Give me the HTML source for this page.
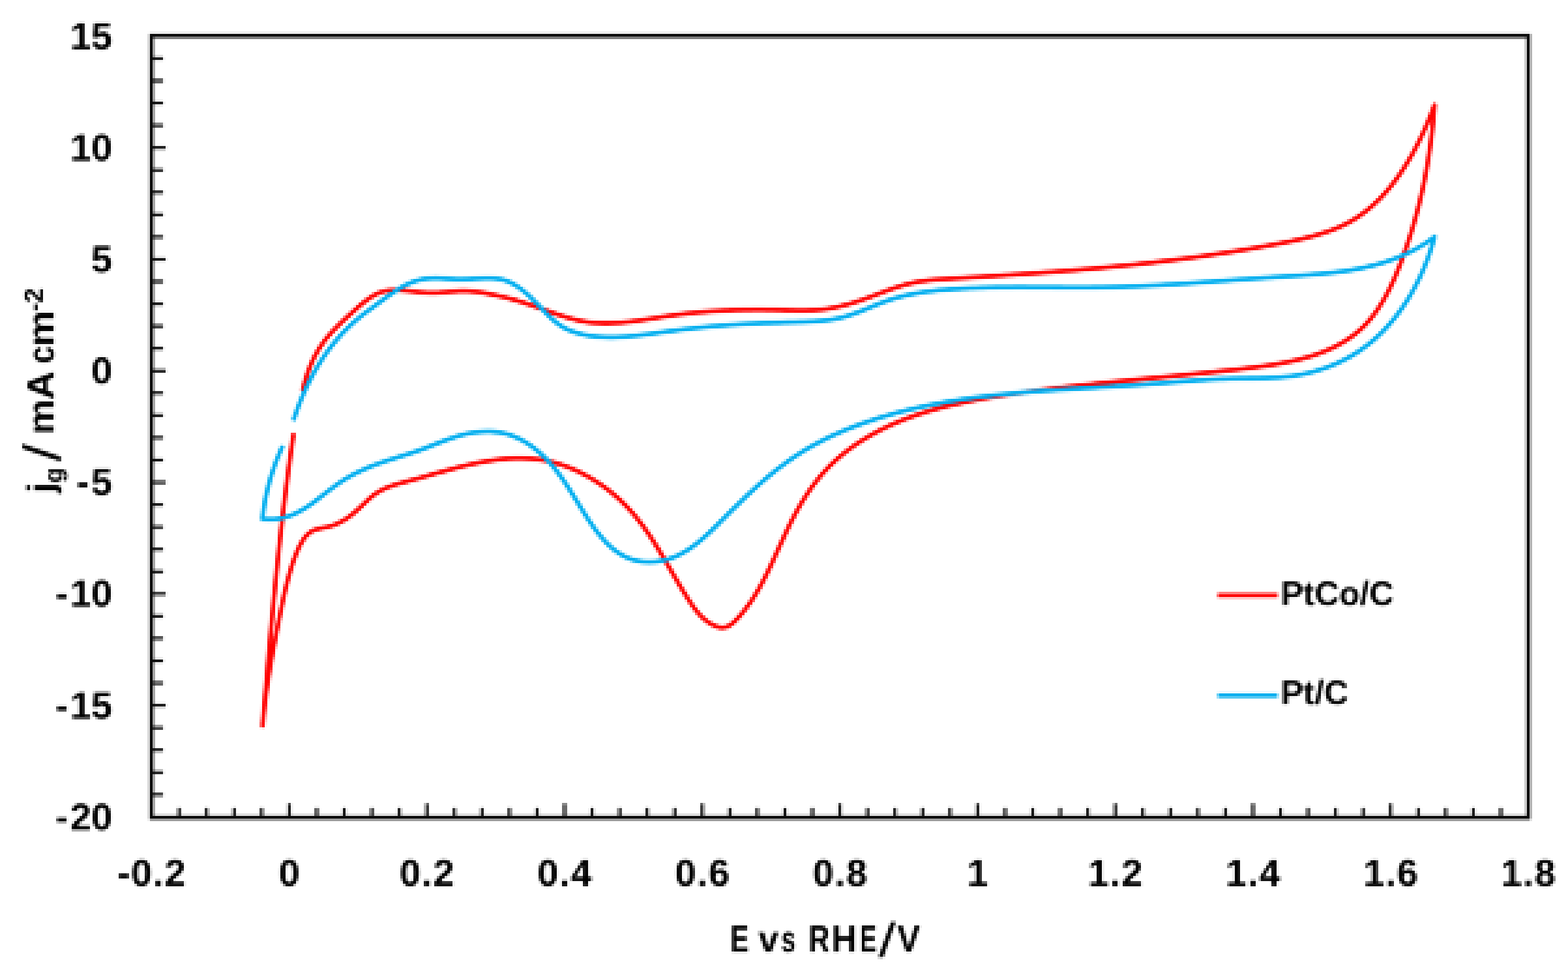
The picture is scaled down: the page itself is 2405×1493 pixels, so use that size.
<!DOCTYPE html>
<html lang="en"><head><meta charset="utf-8"><title>Cyclic voltammograms of PtCo/C and Pt/C</title>
<style>html,body{margin:0;padding:0;background:#fff}body{width:2405px;height:1493px}svg{display:block}text{font-family:"Liberation Sans",Arial,Helvetica,sans-serif;font-weight:700;fill:#000}</style></head><body>
<svg width="2405" height="1493" viewBox="0 0 2405 1493" role="img" aria-label="Cyclic voltammograms, j_g / mA cm-2 versus E vs RHE/V, for PtCo/C and Pt/C">
<defs><filter id="avg" filterUnits="userSpaceOnUse" x="0" y="0" width="2405" height="1493" color-interpolation-filters="sRGB"><feGaussianBlur stdDeviation="1.1"/></filter><pattern id="dotp" patternUnits="userSpaceOnUse" x="0" y="0" width="4" height="4"><rect x="3" y="1" width="1" height="1" fill="#fff"/></pattern><mask id="dots" maskUnits="userSpaceOnUse" x="0" y="0" width="2405" height="1493"><rect x="0" y="0" width="2405" height="1493" fill="url(#dotp)" shape-rendering="crispEdges"/></mask><filter id="rep" filterUnits="userSpaceOnUse" x="0" y="0" width="2405" height="1493" color-interpolation-filters="sRGB"><feMorphology operator="dilate" radius="1" result="d"/><feOffset in="d" dx="1" dy="0" result="dx"/><feMerge result="m1"><feMergeNode in="dx"/><feMergeNode in="d"/></feMerge><feOffset in="m1" dx="0" dy="1" result="dy"/><feMerge result="m2"><feMergeNode in="dy"/><feMergeNode in="m1"/></feMerge><feGaussianBlur in="m2" stdDeviation="0.6"/></filter></defs>
<g filter="url(#rep)"><g mask="url(#dots)"><g filter="url(#avg)"><g transform="translate(-0.5 -0.5)">
<rect x="-4" y="-4" width="2413" height="1501" fill="#fff"/>
<path d="M232.4 89.7h17.8M232.4 124h17.8M232.4 158.2h17.8M232.4 192.4h17.8M232.4 226.7h21.9M232.4 260.9h17.8M232.4 295.1h17.8M232.4 329.4h17.8M232.4 363.6h17.8M232.4 397.8h21.9M232.4 432h17.8M232.4 466.3h17.8M232.4 500.5h17.8M232.4 534.7h17.8M232.4 569h21.9M232.4 603.2h17.8M232.4 637.4h17.8M232.4 671.7h17.8M232.4 705.9h17.8M232.4 740.1h21.9M232.4 774.4h17.8M232.4 808.6h17.8M232.4 842.8h17.8M232.4 877.1h17.8M232.4 911.3h21.9M232.4 945.5h17.8M232.4 979.7h17.8M232.4 1014h17.8M232.4 1048.2h17.8M232.4 1082.4h21.9M232.4 1116.7h17.8M232.4 1150.9h17.8M232.4 1185.1h17.8M232.4 1219.4h17.8M274.7 1254.5v-15M317 1254.5v-15M359.2 1254.5v-15M401.4 1254.5v-15M443.7 1254.5v-21.5M485.9 1254.5v-15M528.1 1254.5v-15M570.4 1254.5v-15M612.6 1254.5v-15M654.8 1254.5v-21.5M697.1 1254.5v-15M739.3 1254.5v-15M781.5 1254.5v-15M823.8 1254.5v-15M866 1254.5v-21.5M908.2 1254.5v-15M950.5 1254.5v-15M992.7 1254.5v-15M1034.9 1254.5v-15M1077.2 1254.5v-21.5M1119.4 1254.5v-15M1161.6 1254.5v-15M1203.9 1254.5v-15M1246.1 1254.5v-15M1288.3 1254.5v-21.5M1330.6 1254.5v-15M1372.8 1254.5v-15M1415.1 1254.5v-15M1457.3 1254.5v-15M1499.5 1254.5v-21.5M1541.8 1254.5v-15M1584 1254.5v-15M1626.2 1254.5v-15M1668.5 1254.5v-15M1710.7 1254.5v-21.5M1752.9 1254.5v-15M1795.2 1254.5v-15M1837.4 1254.5v-15M1879.6 1254.5v-15M1921.9 1254.5v-21.5M1964.1 1254.5v-15M2006.3 1254.5v-15M2048.6 1254.5v-15M2090.8 1254.5v-15M2133 1254.5v-21.5M2175.3 1254.5v-15M2217.5 1254.5v-15M2259.7 1254.5v-15M2302 1254.5v-15" fill="none" stroke="#141414" stroke-width="4.8"/>
<rect x="232.4" y="54.9" width="2111.8" height="1199.6" fill="none" stroke="#0a0a0a" stroke-width="6.4"/>
<path d="M464.2 600.6L465.2 595.7L466.4 590.8L467.6 586L469 581.2L470.5 576.4L472.1 571.7L473.8 566.9L475.6 562.3L477.6 557.7L479.6 553.1L481.8 548.6L484.1 544.2L486.6 539.8L489.1 535.5L491.8 531.3L494.7 527.2L497.6 523.1L500.7 519.2L503.9 515.3L507.2 511.6L510.5 507.9L514 504.3L517.5 500.7L521.1 497.2L524.7 493.7L528.4 490.3L532 486.9L535.7 483.6L539.4 480.2L543.1 476.8L546.9 473.5L550.6 470.1L554.4 466.9L558.3 463.7L562.2 460.7L566.3 457.8L570.5 455L574.8 452.5L579.3 450.3L584 448.5L588.8 447L593.6 446L598.6 445.4L603.6 445.1L608.6 445.1L613.6 445.3L618.6 445.6L623.6 446.1L628.6 446.6L633.5 447.2L638.5 447.8L643.5 448.3L648.5 448.8L653.4 449.2L658.4 449.4L663.4 449.4L668.4 449.3L673.4 449.1L678.4 448.7L683.4 448.3L688.4 447.9L693.4 447.4L698.4 447L703.4 446.7L708.4 446.5L713.4 446.5L718.4 446.7L723.4 447L728.4 447.5L733.3 448.1L738.3 448.9L743.2 449.7L748.1 450.6L753 451.6L757.9 452.6L762.8 453.6L767.7 454.7L772.6 455.8L777.5 457L782.3 458.3L787.1 459.6L791.9 460.9L796.7 462.4L801.5 463.8L806.3 465.4L811 467L815.8 468.6L820.5 470.2L825.2 471.9L829.9 473.6L834.6 475.3L839.3 477L844 478.7L848.8 480.3L853.5 482L858.2 483.5L863 485.1L867.8 486.5L872.6 487.9L877.4 489.3L882.3 490.5L887.1 491.6L892 492.6L897 493.5L901.9 494.3L906.9 494.9L911.9 495.4L916.8 495.7L921.8 495.9L926.9 496L931.9 496L936.9 495.9L941.9 495.7L946.9 495.4L951.8 495.1L956.8 494.6L961.8 494.1L966.8 493.6L971.7 492.9L976.7 492.3L981.7 491.6L986.6 490.9L991.6 490.1L996.5 489.4L1001.4 488.6L1006.4 487.8L1011.3 487L1016.3 486.2L1021.2 485.5L1026.2 484.7L1031.1 484L1036.1 483.4L1041 482.7L1046 482.1L1051 481.5L1055.9 480.9L1060.9 480.4L1065.9 479.9L1070.9 479.4L1075.9 478.9L1080.8 478.5L1085.8 478.1L1090.8 477.7L1095.8 477.4L1100.8 477.1L1105.8 476.8L1110.8 476.5L1115.8 476.3L1120.8 476L1125.8 475.9L1130.8 475.7L1135.8 475.6L1140.8 475.4L1145.8 475.3L1150.8 475.3L1155.8 475.2L1160.8 475.2L1165.8 475.2L1170.8 475.2L1175.8 475.3L1180.8 475.4L1185.8 475.4L1190.8 475.5L1195.8 475.7L1200.8 475.8L1205.8 476L1210.9 476.1L1215.9 476.2L1220.9 476.3L1225.9 476.4L1230.9 476.4L1235.9 476.3L1240.9 476.2L1245.9 476L1250.9 475.8L1255.9 475.4L1260.8 474.9L1265.8 474.3L1270.8 473.6L1275.7 472.7L1280.6 471.8L1285.5 470.7L1290.4 469.6L1295.2 468.4L1300.1 467.1L1304.9 465.7L1309.7 464.3L1314.4 462.8L1319.2 461.2L1323.9 459.6L1328.6 457.9L1333.3 456.2L1338 454.4L1342.7 452.6L1347.4 450.9L1352.1 449.1L1356.7 447.3L1361.4 445.6L1366.1 443.9L1370.9 442.3L1375.6 440.7L1380.4 439.2L1385.2 437.7L1390 436.4L1394.9 435.2L1399.7 434.1L1404.6 433.1L1409.6 432.2L1414.5 431.5L1419.5 430.8L1424.4 430.2L1429.4 429.7L1434.4 429.2L1439.4 428.8L1444.4 428.4L1449.4 428.1L1454.4 427.8L1459.4 427.5L1464.4 427.2L1469.3 426.9L1474.3 426.6L1479.3 426.3L1484.3 426L1489.3 425.7L1494.3 425.4L1499.3 425.1L1504.3 424.8L1509.3 424.4L1514.3 424.1L1519.3 423.8L1524.3 423.5L1529.3 423.2L1534.3 422.9L1539.3 422.5L1544.3 422.2L1549.3 421.9L1554.2 421.5L1559.2 421.2L1564.2 420.9L1569.2 420.5L1574.2 420.2L1579.2 419.8L1584.2 419.5L1589.2 419.1L1594.2 418.8L1599.2 418.4L1604.2 418L1609.2 417.6L1614.1 417.3L1619.1 416.9L1624.1 416.5L1629.1 416.1L1634.1 415.7L1639.1 415.3L1644.1 414.9L1649.1 414.5L1654 414.1L1659 413.7L1664 413.2L1669 412.8L1674 412.4L1679 411.9L1684 411.5L1688.9 411L1693.9 410.6L1698.9 410.1L1703.9 409.6L1708.9 409.1L1713.8 408.6L1718.8 408.1L1723.8 407.6L1728.8 407.1L1733.8 406.6L1738.7 406.1L1743.7 405.6L1748.7 405L1753.7 404.5L1758.6 403.9L1763.6 403.4L1768.6 402.8L1773.5 402.2L1778.5 401.6L1783.5 401L1788.5 400.4L1793.4 399.8L1798.4 399.2L1803.3 398.6L1808.3 397.9L1813.3 397.3L1818.2 396.7L1823.2 396L1828.2 395.3L1833.1 394.7L1838.1 394L1843 393.3L1848 392.6L1852.9 391.9L1857.9 391.1L1862.8 390.4L1867.8 389.7L1872.7 388.9L1877.7 388.2L1882.6 387.4L1887.6 386.6L1892.5 385.8L1897.5 385L1902.4 384.2L1907.3 383.4L1912.3 382.6L1917.2 381.8L1922.1 380.9L1927.1 380.1L1932 379.2L1936.9 378.3L1941.8 377.5L1946.8 376.6L1951.7 375.7L1956.6 374.7L1961.5 373.8L1966.4 372.9L1971.4 371.9L1976.3 371L1981.2 370L1986.1 368.9L1991 367.9L1995.8 366.8L2000.7 365.6L2005.6 364.4L2010.4 363.2L2015.2 361.9L2020.1 360.5L2024.9 359.1L2029.6 357.6L2034.4 356L2039.1 354.4L2043.8 352.6L2048.4 350.8L2053 348.8L2057.6 346.8L2062.1 344.6L2066.6 342.4L2071 340L2075.3 337.5L2079.6 334.9L2083.8 332.1L2087.9 329.3L2091.9 326.3L2095.9 323.3L2099.8 320.1L2103.6 316.9L2107.3 313.5L2111 310.1L2114.6 306.6L2118.1 303.1L2121.5 299.4L2124.8 295.7L2128.1 291.9L2131.3 288.1L2134.5 284.2L2137.6 280.2L2140.6 276.3L2143.5 272.2L2146.4 268.1L2149.2 264L2152 259.8L2154.7 255.6L2157.4 251.4L2160 247.1L2162.5 242.8L2165 238.5L2167.5 234.1L2169.8 229.7L2172.2 225.3L2174.5 220.8L2176.7 216.4L2178.9 211.9L2181.1 207.3L2183.2 202.8L2185.3 198.3L2187.3 193.7L2189.3 189.1L2191.2 184.5L2193.1 179.9L2195 175.2L2196.8 170.6L2198.6 165.9L2200.4 161.2L2200 166.2L2199.6 171.2L2199.1 176.2L2198.7 181.1L2198.2 186.1L2197.7 191.1L2197.1 196.1L2196.6 201L2196 206L2195.4 211L2194.8 215.9L2194.1 220.9L2193.4 225.8L2192.7 230.8L2192 235.7L2191.2 240.7L2190.5 245.6L2189.6 250.6L2188.8 255.5L2187.9 260.4L2187 265.3L2186.1 270.3L2185.1 275.2L2184.1 280.1L2183.1 285L2182.1 289.9L2181 294.7L2179.9 299.6L2178.7 304.5L2177.6 309.3L2176.4 314.2L2175.1 319.1L2173.9 323.9L2172.6 328.7L2171.3 333.5L2169.9 338.4L2168.5 343.2L2167.1 348L2165.7 352.8L2164.2 357.5L2162.7 362.3L2161.2 367.1L2159.6 371.8L2158 376.6L2156.4 381.3L2154.8 386L2153.1 390.7L2151.4 395.4L2149.7 400.1L2147.9 404.8L2146.1 409.5L2144.2 414.1L2142.3 418.8L2140.4 423.4L2138.4 428L2136.3 432.5L2134.2 437L2132.1 441.6L2129.8 446L2127.5 450.5L2125.1 454.9L2122.7 459.2L2120.2 463.5L2117.5 467.8L2114.8 472L2112 476.1L2109.1 480.2L2106.1 484.2L2103 488.2L2099.8 492L2096.5 495.7L2093.1 499.4L2089.5 502.9L2085.8 506.3L2082 509.5L2078.2 512.7L2074.2 515.7L2070.1 518.6L2066 521.4L2061.7 524.1L2057.4 526.6L2053 529L2048.6 531.4L2044.1 533.6L2039.6 535.7L2035 537.7L2030.4 539.6L2025.7 541.4L2021 543.1L2016.3 544.7L2011.5 546.2L2006.7 547.7L2001.9 549.1L1997.1 550.4L1992.2 551.6L1987.4 552.8L1982.5 553.9L1977.6 555L1972.7 556L1967.8 556.9L1962.9 557.9L1958 558.7L1953 559.6L1948.1 560.3L1943.1 561.1L1938.2 561.8L1933.2 562.5L1928.3 563.2L1923.3 563.8L1918.4 564.4L1913.4 565L1908.4 565.6L1903.5 566.2L1898.5 566.8L1893.5 567.3L1888.5 567.9L1883.6 568.4L1878.6 569L1873.6 569.5L1868.7 570L1863.7 570.6L1858.7 571.1L1853.7 571.6L1848.8 572.1L1843.8 572.6L1838.8 573.1L1833.8 573.7L1828.8 574.2L1823.9 574.7L1818.9 575.2L1813.9 575.6L1808.9 576.1L1804 576.6L1799 577.1L1794 577.6L1789 578.1L1784 578.6L1779.1 579.1L1774.1 579.6L1769.1 580L1764.1 580.5L1759.2 581L1754.2 581.5L1749.2 582L1744.2 582.5L1739.2 583L1734.3 583.5L1729.3 583.9L1724.3 584.4L1719.3 584.9L1714.4 585.4L1709.4 585.9L1704.4 586.4L1699.4 587L1694.5 587.5L1689.5 588L1684.5 588.5L1679.5 589L1674.6 589.6L1669.6 590.1L1664.6 590.6L1659.6 591.2L1654.7 591.7L1649.7 592.3L1644.7 592.8L1639.8 593.4L1634.8 594L1629.8 594.6L1624.8 595.1L1619.9 595.7L1614.9 596.3L1610 596.9L1605 597.6L1600 598.2L1595.1 598.8L1590.1 599.5L1585.1 600.1L1580.2 600.8L1575.2 601.4L1570.3 602.1L1565.3 602.8L1560.4 603.5L1555.4 604.2L1550.5 604.9L1545.5 605.6L1540.6 606.4L1535.6 607.1L1530.7 607.9L1525.7 608.7L1520.8 609.5L1515.9 610.3L1510.9 611.2L1506 612L1501.1 612.9L1496.2 613.8L1491.3 614.8L1486.3 615.7L1481.4 616.7L1476.6 617.8L1471.7 618.8L1466.8 619.9L1461.9 621L1457 622.2L1452.2 623.3L1447.3 624.6L1442.5 625.8L1437.6 627.1L1432.8 628.4L1428 629.8L1423.2 631.2L1418.4 632.7L1413.7 634.2L1408.9 635.7L1404.2 637.3L1399.4 639L1394.7 640.7L1390 642.4L1385.4 644.2L1380.7 646.1L1376.1 648L1371.5 649.9L1366.9 651.9L1362.4 654L1357.9 656.2L1353.4 658.3L1348.9 660.6L1344.5 662.9L1340.1 665.3L1335.7 667.7L1331.4 670.2L1327.1 672.8L1322.8 675.4L1318.6 678.1L1314.4 680.9L1310.3 683.7L1306.2 686.6L1302.2 689.6L1298.2 692.6L1294.3 695.7L1290.4 698.9L1286.6 702.1L1282.8 705.4L1279.2 708.8L1275.5 712.2L1272 715.7L1268.5 719.3L1265.1 723L1261.7 726.7L1258.5 730.5L1255.3 734.3L1252.1 738.3L1249.1 742.2L1246.1 746.2L1243.2 750.3L1240.4 754.4L1237.6 758.6L1234.9 762.8L1232.2 767L1229.6 771.3L1227 775.6L1224.6 779.9L1222.1 784.3L1219.7 788.7L1217.4 793.1L1215 797.5L1212.8 802L1210.5 806.5L1208.4 811L1206.2 815.5L1204.1 820L1202 824.5L1199.9 829.1L1197.8 833.6L1195.7 838.2L1193.7 842.7L1191.6 847.3L1189.5 851.9L1187.5 856.4L1185.4 861L1183.3 865.5L1181.2 870L1179 874.5L1176.8 879L1174.6 883.5L1172.3 888L1170 892.4L1167.6 896.8L1165.2 901.2L1162.7 905.5L1160.2 909.8L1157.5 914.1L1154.9 918.3L1152.1 922.5L1149.2 926.6L1146.3 930.6L1143.3 934.6L1140.2 938.5L1137 942.4L1133.7 946.2L1130.4 949.9L1126.8 953.4L1123.1 956.8L1119 959.7L1114.6 961.9L1109.7 963L1104.7 962.9L1099.9 961.6L1095.2 959.8L1090.8 957.5L1086.5 954.9L1082.5 951.9L1078.7 948.7L1075.1 945.2L1071.7 941.5L1068.5 937.7L1065.4 933.7L1062.5 929.7L1059.7 925.6L1056.9 921.4L1054.2 917.2L1051.6 912.9L1048.9 908.7L1046.3 904.4L1043.7 900.1L1041.2 895.9L1038.6 891.6L1036.1 887.2L1033.5 882.9L1031 878.6L1028.5 874.3L1026 870L1023.5 865.6L1020.9 861.3L1018.4 857L1015.9 852.7L1013.3 848.4L1010.7 844.1L1008.1 839.9L1005.4 835.6L1002.8 831.4L1000 827.2L997.3 823L994.5 818.9L991.7 814.8L988.8 810.7L985.8 806.6L982.8 802.6L979.8 798.7L976.6 794.8L973.5 790.9L970.2 787.1L966.9 783.4L963.5 779.7L960.1 776.1L956.5 772.5L952.9 769L949.3 765.6L945.6 762.3L941.8 759L937.9 755.8L934 752.7L930 749.6L926 746.7L921.9 743.8L917.8 741L913.6 738.3L909.4 735.6L905.1 733.1L900.7 730.6L896.3 728.2L891.9 725.9L887.4 723.7L882.8 721.6L878.2 719.6L873.6 717.7L869 715.9L864.2 714.2L859.5 712.6L854.7 711.2L849.9 709.8L845.1 708.6L840.2 707.5L835.3 706.5L830.3 705.6L825.4 704.9L820.4 704.3L815.5 703.8L810.5 703.5L805.5 703.3L800.5 703.1L795.5 703.1L790.5 703.2L785.5 703.4L780.5 703.7L775.5 704L770.5 704.5L765.5 705L760.6 705.6L755.6 706.3L750.7 707.1L745.7 707.9L740.8 708.8L735.9 709.7L731 710.7L726.1 711.7L721.2 712.8L716.3 713.9L711.5 715L706.6 716.2L701.7 717.4L696.9 718.7L692.1 720L687.2 721.3L682.4 722.6L677.6 723.9L672.8 725.2L667.9 726.6L663.1 727.9L658.3 729.3L653.5 730.7L648.7 732L643.9 733.4L639.1 734.7L634.2 736L629.4 737.3L624.6 738.6L619.7 739.9L614.9 741.2L610.1 742.6L605.3 744L600.6 745.6L595.9 747.3L591.2 749.2L586.7 751.3L582.3 753.7L578 756.3L573.9 759.1L569.9 762.2L566.2 765.5L562.5 768.9L558.9 772.4L555.3 775.8L551.7 779.2L548 782.6L544.2 785.9L540.4 789.1L536.4 792.2L532.4 795.1L528.2 797.8L523.8 800.3L519.4 802.6L514.8 804.6L510.1 806.4L505.3 807.8L500.5 809L495.6 809.9L490.7 810.9L485.8 812.1L481.1 813.8L476.7 816.1L472.7 819.2L469.2 822.7L466.1 826.7L463.4 830.8L460.9 835.2L458.6 839.6L456.5 844.2L454.6 848.8L452.8 853.4L451 858.1L449.4 862.9L447.8 867.6L446.3 872.4L444.9 877.2L443.5 882L442.2 886.8L440.9 891.6L439.7 896.5L438.5 901.3L437.3 906.2L436.2 911.1L435.1 916L434.1 920.9L433 925.8L432 930.7L431 935.6L430 940.5L429 945.4L428 950.3L427.1 955.2L426.1 960.1L425.1 965L424.1 969.9L423.2 974.8L422.2 979.7L421.3 984.6L420.4 989.5L419.5 994.5L418.5 999.4L417.7 1004.3L416.8 1009.2L415.9 1014.1L415.1 1019.1L414.2 1024L413.4 1028.9L412.6 1033.9L411.8 1038.8L411.1 1043.8L410.3 1048.7L409.6 1053.7L408.9 1058.6L408.2 1063.6L407.6 1068.5L407 1073.5L406.3 1078.5L405.8 1083.4L405.2 1088.4L404.7 1093.4L404.2 1098.4L403.7 1103.3L403.3 1108.3L402.9 1113.3L403.3 1108.3L403.8 1103.3L404.2 1098.3L404.6 1093.3L405 1088.3L405.5 1083.3L405.9 1078.3L406.3 1073.3L406.7 1068.3L407.2 1063.3L407.6 1058.4L408 1053.4L408.4 1048.4L408.9 1043.4L409.3 1038.4L409.7 1033.4L410.2 1028.4L410.6 1023.4L411 1018.4L411.5 1013.4L411.9 1008.4L412.3 1003.4L412.8 998.4L413.2 993.4L413.7 988.4L414.1 983.4L414.6 978.4L415 973.4L415.5 968.5L415.9 963.5L416.4 958.5L416.8 953.5L417.3 948.5L417.8 943.5L418.2 938.5L418.7 933.5L419.2 928.5L419.6 923.5L420.1 918.5L420.6 913.5L421.1 908.6L421.6 903.6L422.1 898.6L422.6 893.6L423.1 888.6L423.6 883.6L424.1 878.6L424.6 873.6L425.1 868.7L425.6 863.7L426.1 858.7L426.7 853.7L427.2 848.7L427.7 843.7L428.3 838.7L428.8 833.8L429.3 828.8L429.9 823.8L430.5 818.8L431 813.8L431.6 808.8L432.2 803.9L432.7 798.9L433.3 793.9L433.9 788.9L434.5 783.9L435.1 779L435.7 774L436.3 769L436.9 764L437.5 759.1L438.2 754.1L438.8 749.1L439.4 744.1L440.1 739.2L440.7 734.2L441.4 729.2L442 724.3L442.7 719.3L443.4 714.3L444.1 709.4L444.7 704.4L445.4 699.4L446.1 694.5L446.9 689.5L447.6 684.5L448.3 679.6L449 674.6L449.8 669.7L450.5 664.7" fill="none" stroke="#ff0000" stroke-width="6.8" stroke-linejoin="round" stroke-linecap="butt"/>
<path d="M450.1 645.4L451.6 640.6L453.2 635.9L454.9 631.2L456.5 626.5L458.3 621.8L460.1 617.1L462 612.5L463.9 607.8L465.9 603.2L468 598.7L470.1 594.1L472.2 589.6L474.5 585.2L476.8 580.7L479.1 576.3L481.5 571.9L484 567.6L486.5 563.2L489.1 559L491.8 554.7L494.5 550.5L497.3 546.4L500.2 542.3L503.1 538.2L506.1 534.2L509.2 530.2L512.3 526.3L515.5 522.5L518.7 518.7L522.1 514.9L525.4 511.2L528.9 507.6L532.4 504.1L536 500.6L539.7 497.2L543.4 493.8L547.2 490.5L551 487.3L554.9 484.2L558.9 481.1L562.9 478.1L566.9 475.1L570.9 472.2L575 469.2L579 466.3L583 463.3L587 460.3L591.1 457.4L595.1 454.4L599.2 451.5L603.3 448.7L607.5 445.9L611.7 443.3L616.1 440.7L620.4 438.3L624.9 436.1L629.5 434.1L634.2 432.3L638.9 430.7L643.8 429.5L648.7 428.4L653.6 427.6L658.6 427.1L663.6 426.8L668.6 426.7L673.6 426.9L678.6 427.1L683.6 427.5L688.6 427.8L693.6 428.2L698.6 428.5L703.6 428.6L708.6 428.7L713.6 428.5L718.6 428.3L723.6 428L728.6 427.7L733.6 427.4L738.6 427.1L743.6 426.9L748.6 426.8L753.6 426.9L758.6 427.2L763.5 427.8L768.5 428.6L773.3 429.8L778.1 431.4L782.7 433.4L787.1 435.7L791.4 438.2L795.6 441L799.6 443.9L803.6 447L807.4 450.3L811.1 453.6L814.7 457L818.3 460.6L821.8 464.1L825.3 467.7L828.8 471.3L832.3 474.9L835.7 478.5L839.2 482.1L842.8 485.6L846.4 489.1L850.2 492.4L854 495.5L858.1 498.5L862.3 501.3L866.6 503.7L871.1 505.9L875.7 507.8L880.4 509.5L885.2 511L890 512.3L894.9 513.5L899.8 514.4L904.8 515.3L909.7 516L914.7 516.5L919.7 516.9L924.7 517.2L929.7 517.4L934.7 517.5L939.7 517.5L944.7 517.4L949.7 517.2L954.7 516.9L959.7 516.6L964.7 516.2L969.7 515.7L974.6 515.2L979.6 514.6L984.6 514L989.5 513.4L994.5 512.8L999.5 512.1L1004.4 511.4L1009.4 510.7L1014.3 510L1019.3 509.3L1024.2 508.6L1029.2 508L1034.2 507.3L1039.1 506.7L1044.1 506L1049.1 505.4L1054 504.8L1059 504.3L1064 503.7L1069 503.2L1073.9 502.7L1078.9 502.2L1083.9 501.7L1088.9 501.2L1093.9 500.7L1098.8 500.3L1103.8 499.9L1108.8 499.5L1113.8 499.1L1118.8 498.7L1123.8 498.4L1128.8 498.1L1133.8 497.7L1138.8 497.4L1143.8 497.1L1148.8 496.9L1153.8 496.6L1158.8 496.3L1163.8 496.1L1168.8 495.9L1173.8 495.7L1178.8 495.5L1183.8 495.3L1188.8 495.1L1193.8 495L1198.8 494.8L1203.8 494.7L1208.8 494.5L1213.8 494.4L1218.8 494.3L1223.8 494.2L1228.8 494L1233.8 493.9L1238.8 493.7L1243.8 493.4L1248.8 493.2L1253.8 492.8L1258.8 492.4L1263.7 491.9L1268.7 491.3L1273.7 490.6L1278.6 489.8L1283.5 488.8L1288.4 487.8L1293.3 486.6L1298.1 485.3L1302.9 483.8L1307.6 482.2L1312.3 480.5L1317 478.8L1321.7 477L1326.3 475.1L1331 473.2L1335.6 471.3L1340.2 469.4L1344.9 467.5L1349.5 465.7L1354.2 463.9L1358.9 462.2L1363.6 460.5L1368.4 459L1373.2 457.5L1378 456.2L1382.8 454.9L1387.7 453.7L1392.6 452.6L1397.5 451.6L1402.4 450.6L1407.3 449.8L1412.3 449L1417.2 448.2L1422.2 447.5L1427.1 446.9L1432.1 446.3L1437.1 445.7L1442 445.2L1447 444.8L1452 444.4L1457 444L1462 443.6L1467 443.3L1472 443L1477 442.7L1482 442.5L1487 442.2L1492 442L1497 441.8L1502 441.6L1507 441.5L1512 441.3L1517 441.2L1522 441.1L1527 441L1532 440.9L1537 440.9L1542 440.8L1547 440.8L1552 440.8L1557 440.7L1562 440.7L1567 440.7L1572 440.7L1577 440.8L1582.1 440.8L1587.1 440.8L1592.1 440.8L1597.1 440.8L1602.1 440.9L1607.1 440.9L1612.1 440.9L1617.1 441L1622.1 441L1627.1 441L1632.1 441.1L1637.1 441.1L1642.1 441.1L1647.1 441.1L1652.1 441.1L1657.1 441.1L1662.1 441.1L1667.1 441.1L1672.1 441.1L1677.1 441L1682.1 441L1687.1 440.9L1692.2 440.8L1697.2 440.7L1702.2 440.6L1707.2 440.5L1712.2 440.4L1717.2 440.2L1722.2 440.1L1727.2 439.9L1732.2 439.7L1737.2 439.5L1742.2 439.3L1747.2 439.1L1752.2 438.9L1757.2 438.6L1762.2 438.4L1767.2 438.1L1772.2 437.9L1777.2 437.6L1782.2 437.3L1787.2 437L1792.2 436.7L1797.1 436.4L1802.1 436.1L1807.1 435.8L1812.1 435.4L1817.1 435.1L1822.1 434.8L1827.1 434.4L1832.1 434.1L1837.1 433.7L1842.1 433.4L1847.1 433L1852.1 432.7L1857.1 432.3L1862.1 431.9L1867 431.6L1872 431.2L1877 430.8L1882 430.5L1887 430.1L1892 429.7L1897 429.4L1902 429L1907 428.6L1912 428.3L1917 427.9L1921.9 427.6L1926.9 427.2L1931.9 426.8L1936.9 426.5L1941.9 426.2L1946.9 425.8L1951.9 425.5L1956.9 425.2L1961.9 424.8L1966.9 424.5L1971.9 424.2L1976.9 423.9L1981.9 423.6L1986.9 423.2L1991.9 422.9L1996.9 422.6L2001.8 422.2L2006.8 421.8L2011.8 421.4L2016.8 421L2021.8 420.6L2026.8 420.2L2031.8 419.7L2036.7 419.2L2041.7 418.6L2046.7 418.1L2051.7 417.4L2056.6 416.8L2061.6 416.1L2066.5 415.3L2071.5 414.6L2076.4 413.7L2081.3 412.8L2086.2 411.9L2091.1 410.9L2096 409.8L2100.9 408.6L2105.8 407.4L2110.6 406.2L2115.4 404.8L2120.2 403.4L2125 401.9L2129.7 400.3L2134.5 398.7L2139.2 396.9L2143.8 395.1L2148.4 393.2L2153 391.2L2157.6 389.1L2162.1 387L2166.6 384.7L2171 382.4L2175.4 379.9L2179.7 377.4L2183.9 374.8L2188.1 372.1L2192.3 369.3L2196.4 366.4L2200.4 363.4L2199.1 368.2L2197.7 373L2196.2 377.8L2194.7 382.6L2193.1 387.4L2191.5 392.1L2189.8 396.8L2188 401.5L2186.2 406.1L2184.3 410.8L2182.3 415.4L2180.3 420L2178.2 424.5L2176 429L2173.8 433.5L2171.5 438L2169.1 442.4L2166.7 446.8L2164.2 451.1L2161.7 455.4L2159.1 459.7L2156.4 463.9L2153.6 468.1L2150.8 472.2L2147.9 476.3L2144.9 480.4L2141.9 484.4L2138.8 488.3L2135.6 492.2L2132.4 496L2129.1 499.8L2125.7 503.5L2122.3 507.1L2118.8 510.6L2115.2 514.1L2111.5 517.6L2107.8 520.9L2104 524.2L2100.1 527.3L2096.1 530.4L2092.1 533.4L2088.1 536.3L2083.9 539.1L2079.7 541.9L2075.5 544.5L2071.1 547L2066.8 549.5L2062.3 551.8L2057.9 554.1L2053.3 556.2L2048.8 558.3L2044.2 560.2L2039.5 562.1L2034.8 563.9L2030.1 565.6L2025.4 567.1L2020.6 568.6L2015.8 570L2010.9 571.3L2006.1 572.5L2001.2 573.6L1996.3 574.6L1991.3 575.5L1986.4 576.3L1981.4 577.1L1976.5 577.7L1971.5 578.2L1966.5 578.7L1961.5 579.1L1956.5 579.4L1951.5 579.7L1946.5 579.9L1941.5 580.1L1936.5 580.2L1931.5 580.3L1926.5 580.4L1921.5 580.5L1916.5 580.5L1911.5 580.6L1906.5 580.7L1901.4 580.7L1896.4 580.8L1891.4 580.9L1886.4 581.1L1881.4 581.3L1876.4 581.5L1871.4 581.7L1866.4 581.9L1861.4 582.2L1856.4 582.4L1851.4 582.7L1846.4 583L1841.4 583.4L1836.4 583.7L1831.4 584L1826.4 584.4L1821.4 584.8L1816.4 585.1L1811.4 585.5L1806.4 585.9L1801.4 586.3L1796.5 586.7L1791.5 587.1L1786.5 587.5L1781.5 587.9L1776.5 588.3L1771.5 588.7L1766.5 589L1761.5 589.4L1756.5 589.8L1751.5 590.1L1746.5 590.5L1741.5 590.8L1736.5 591.1L1731.5 591.5L1726.5 591.8L1721.5 592.1L1716.5 592.4L1711.5 592.7L1706.5 593L1701.5 593.3L1696.5 593.6L1691.5 593.9L1686.5 594.2L1681.5 594.5L1676.5 594.8L1671.5 595.1L1666.5 595.4L1661.5 595.7L1656.5 596L1651.5 596.3L1646.5 596.6L1641.5 597L1636.5 597.3L1631.5 597.6L1626.5 597.9L1621.5 598.2L1616.5 598.6L1611.5 598.9L1606.6 599.3L1601.6 599.6L1596.6 600L1591.6 600.4L1586.6 600.8L1581.6 601.2L1576.6 601.6L1571.6 602L1566.6 602.4L1561.6 602.9L1556.6 603.3L1551.6 603.8L1546.7 604.3L1541.7 604.8L1536.7 605.3L1531.7 605.8L1526.7 606.3L1521.8 606.9L1516.8 607.5L1511.8 608.1L1506.8 608.7L1501.9 609.3L1496.9 609.9L1491.9 610.6L1487 611.3L1482 612L1477.1 612.7L1472.1 613.5L1467.2 614.3L1462.2 615.1L1457.3 615.9L1452.3 616.7L1447.4 617.6L1442.5 618.5L1437.6 619.4L1432.6 620.3L1427.7 621.3L1422.8 622.3L1417.9 623.3L1413 624.4L1408.1 625.5L1403.2 626.6L1398.4 627.7L1393.5 628.9L1388.6 630.1L1383.8 631.3L1378.9 632.6L1374.1 633.8L1369.3 635.2L1364.4 636.5L1359.6 637.9L1354.8 639.3L1350 640.8L1345.2 642.3L1340.5 643.8L1335.7 645.4L1331 647L1326.2 648.6L1321.5 650.3L1316.8 652L1312.1 653.7L1307.4 655.5L1302.8 657.3L1298.1 659.2L1293.5 661.1L1288.9 663.1L1284.3 665.1L1279.7 667.1L1275.2 669.2L1270.6 671.4L1266.1 673.6L1261.7 675.8L1257.2 678.1L1252.8 680.4L1248.4 682.8L1244 685.3L1239.7 687.8L1235.3 690.3L1231.1 692.9L1226.8 695.6L1222.6 698.3L1218.4 701L1214.3 703.9L1210.2 706.7L1206.1 709.6L1202.1 712.6L1198.1 715.6L1194.1 718.6L1190.1 721.7L1186.2 724.9L1182.3 728L1178.5 731.2L1174.7 734.4L1170.9 737.7L1167.1 741L1163.3 744.3L1159.6 747.7L1155.9 751L1152.2 754.4L1148.6 757.8L1144.9 761.3L1141.3 764.7L1137.7 768.2L1134.1 771.7L1130.5 775.2L1126.9 778.7L1123.3 782.2L1119.8 785.7L1116.2 789.3L1112.7 792.8L1109.2 796.4L1105.6 799.9L1102.1 803.5L1098.5 807L1095 810.5L1091.4 814L1087.7 817.4L1084.1 820.8L1080.3 824.2L1076.6 827.5L1072.7 830.7L1068.8 833.8L1064.8 836.9L1060.8 839.8L1056.7 842.7L1052.5 845.4L1048.1 847.9L1043.7 850.3L1039.3 852.5L1034.7 854.5L1030 856.3L1025.2 857.9L1020.4 859.3L1015.5 860.4L1010.6 861.2L1005.6 861.9L1000.6 862.2L995.6 862.3L990.6 862.2L985.6 861.8L980.7 861.1L975.8 860.1L970.9 858.9L966.1 857.3L961.5 855.5L957 853.3L952.6 850.9L948.4 848.2L944.3 845.3L940.3 842.2L936.6 839L932.9 835.5L929.4 832L926 828.3L922.7 824.5L919.5 820.7L916.4 816.8L913.3 812.8L910.4 808.7L907.5 804.6L904.7 800.5L901.9 796.3L899.2 792.1L896.5 787.9L893.8 783.7L891.2 779.4L888.5 775.1L885.9 770.9L883.3 766.6L880.6 762.4L878 758.1L875.3 753.9L872.6 749.6L869.9 745.4L867.2 741.3L864.3 737.1L861.5 733L858.5 728.9L855.5 724.9L852.5 721L849.3 717.1L846.1 713.3L842.8 709.5L839.4 705.8L835.8 702.3L832.3 698.8L828.6 695.4L824.8 692.1L820.9 688.9L816.9 685.9L812.8 683L808.7 680.2L804.4 677.6L800 675.1L795.6 672.9L791 670.8L786.4 668.9L781.7 667.2L776.9 665.8L772 664.7L767.1 663.7L762.1 663L757.1 662.5L752.1 662.2L747.1 662.2L742.1 662.3L737.1 662.6L732.1 663.1L727.2 663.7L722.2 664.5L717.3 665.4L712.4 666.5L707.6 667.8L702.7 669.1L697.9 670.6L693.2 672.2L688.5 673.8L683.7 675.5L679 677.2L674.4 679L669.7 680.8L665 682.7L660.4 684.5L655.7 686.3L651 688.1L646.3 689.8L641.6 691.5L636.9 693.1L632.1 694.7L627.4 696.3L622.6 697.8L617.8 699.3L613 700.8L608.2 702.3L603.5 703.8L598.7 705.3L593.9 706.8L589.2 708.4L584.4 710L579.7 711.6L575 713.4L570.3 715.1L565.7 717L561 719L556.5 721L551.9 723.1L547.4 725.3L543 727.6L538.5 729.9L534.2 732.4L529.9 734.9L525.6 737.6L521.4 740.3L517.3 743.2L513.2 746.1L509.2 749.1L505.2 752.1L501.3 755.2L497.3 758.3L493.4 761.3L489.4 764.4L485.4 767.5L481.4 770.5L477.4 773.4L473.3 776.2L469.1 779L464.8 781.6L460.5 784.1L456 786.5L451.5 788.6L446.9 790.6L442.2 792.3L437.4 793.8L432.6 795L427.6 795.9L422.7 796.6L417.7 796.9L412.7 797L407.7 796.7L402.7 796.2L403.2 791.1L403.8 786.1L404.5 781.1L405.3 776L406.1 771L407 766L408 761L409.1 756.1L410.3 751.1L411.5 746.2L412.8 741.2L414.1 736.3L415.6 731.5L417.1 726.6L418.7 721.8L420.3 717L422 712.2L423.8 707.4L425.6 702.7L427.6 698L429.5 693.3L431.6 688.6L433.7 684" fill="none" stroke="#00aeef" stroke-width="6.8" stroke-linejoin="round" stroke-linecap="butt"/>
<text x="172.2" y="75.1" font-size="58" text-anchor="end">15</text>
<text x="172.2" y="246.3" font-size="58" text-anchor="end">10</text>
<text x="172.2" y="417.4" font-size="58" text-anchor="end">5</text>
<text x="172.2" y="588.6" font-size="58" text-anchor="end">0</text>
<text x="172.2" y="759.7" font-size="58" text-anchor="end">-<tspan dx="3">5</tspan></text>
<text x="172.2" y="930.9" font-size="58" text-anchor="end">-<tspan dx="3">10</tspan></text>
<text x="172.2" y="1102" font-size="58" text-anchor="end">-<tspan dx="3">15</tspan></text>
<text x="172.2" y="1273.2" font-size="58" text-anchor="end">-<tspan dx="3">20</tspan></text>
<text x="233.2" y="1359.5" font-size="58" text-anchor="middle" letter-spacing="1.5">-<tspan dx="0">0.2</tspan></text>
<text x="444.4" y="1359.5" font-size="58" text-anchor="middle" letter-spacing="1.5">0</text>
<text x="655.6" y="1359.5" font-size="58" text-anchor="middle" letter-spacing="1.5">0.2</text>
<text x="866.8" y="1359.5" font-size="58" text-anchor="middle" letter-spacing="1.5">0.4</text>
<text x="1077.9" y="1359.5" font-size="58" text-anchor="middle" letter-spacing="1.5">0.6</text>
<text x="1289.1" y="1359.5" font-size="58" text-anchor="middle" letter-spacing="1.5">0.8</text>
<text x="1500.3" y="1359.5" font-size="58" text-anchor="middle" letter-spacing="1.5">1</text>
<text x="1711.4" y="1359.5" font-size="58" text-anchor="middle" letter-spacing="1.5">1.2</text>
<text x="1922.6" y="1359.5" font-size="58" text-anchor="middle" letter-spacing="1.5">1.4</text>
<text x="2133.8" y="1359.5" font-size="58" text-anchor="middle" letter-spacing="1.5">1.6</text>
<text x="2344.9" y="1359.5" font-size="58" text-anchor="middle" letter-spacing="1.5">1.8</text>
<text font-size="58"><tspan x="1120.2" y="1460" textLength="28.4" lengthAdjust="spacingAndGlyphs">E</tspan> <tspan x="1163.3" y="1460" textLength="31.1" lengthAdjust="spacingAndGlyphs">v</tspan><tspan x="1198.1" y="1460" textLength="22.4" lengthAdjust="spacingAndGlyphs">s</tspan> <tspan x="1240.4" y="1460" textLength="32.1" lengthAdjust="spacingAndGlyphs">R</tspan><tspan x="1275.7" y="1460" textLength="38.4" lengthAdjust="spacingAndGlyphs">H</tspan><tspan x="1318.9" y="1460" textLength="25.8" lengthAdjust="spacingAndGlyphs">E</tspan><tspan font-weight="400" x="1347.2" y="1468" font-size="75" textLength="26.6" lengthAdjust="spacingAndGlyphs">/</tspan><tspan x="1376" y="1460" textLength="35.3" lengthAdjust="spacingAndGlyphs">V</tspan></text>
<text transform="translate(82.4 760) rotate(-90)" font-size="58"><tspan x="3.5" y="0">j</tspan><tspan x="18.9" y="13" font-size="38">g</tspan> <tspan font-weight="400" x="51.8" y="9.8" font-size="80" textLength="27.3" lengthAdjust="spacingAndGlyphs">/</tspan> <tspan x="93.4" y="0" textLength="53.8" lengthAdjust="spacingAndGlyphs">m</tspan><tspan x="146.5" y="0" textLength="42.1" lengthAdjust="spacingAndGlyphs">A</tspan> <tspan x="202.2" y="0" textLength="26.7" lengthAdjust="spacingAndGlyphs">c</tspan><tspan x="228" y="0" textLength="55.8" lengthAdjust="spacingAndGlyphs">m</tspan><tspan x="281.7" y="-17.3" font-size="41">-2</tspan></text>
<path d="M1867.8 913.5H1959.8" stroke="#ff0000" stroke-width="7.0" fill="none"/>
<path d="M1867.8 1067.1H1959.8" stroke="#00aeef" stroke-width="7.0" fill="none"/>
<text x="1964.4" y="928.7" font-size="52">PtCo/C</text>
<text x="1964.4" y="1080.7" font-size="52">Pt/C</text>
</g></g></g></g></svg></body></html>
